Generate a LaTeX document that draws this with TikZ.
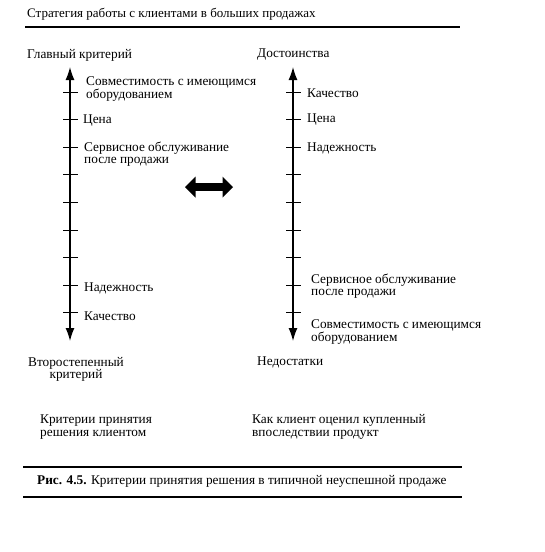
\documentclass[tikz,border=0pt]{standalone}
\usepackage{fontspec}
\setmainfont{Liberation Serif}
\usetikzlibrary{arrows.meta, shapes.arrows, positioning, calc}

\tikzset{
  lbl/.style={anchor=west, inner sep=0pt, align=left, font=\fontsize{13.3}{12.5}\selectfont},
  axis/.style={line width=1.3pt, {Latex[length=13pt,width=9pt]}-{Latex[length=13pt,width=9pt]}},
  tick/.style={line width=1pt},
  rule/.style={line width=1.5pt}
}

\begin{document}
\begin{tikzpicture}[x=1pt, y=-1pt]
  \useasboundingbox (0,0) rectangle (545,552);

  % Header
  \node[lbl, font=\fontsize{13}{12}\selectfont] (title) at (27,14) {Стратегия работы с клиентами в больших продажах};
  \draw[rule] (25,27) coordinate (hl) -- (460,27) coordinate (hr);

  % Column headings
  \node[lbl] (main) at (27,55) {Главный критерий};
  \node[lbl] (pros) at (257,55) {Достоинства};

  % Axes
  \coordinate (Ltop) at (70,67);
  \coordinate (Lbot) at (70,341);
  \coordinate (Rtop) at (293,67);
  \coordinate (Rbot) at (293,341);
  \draw[axis] (Ltop) -- (Lbot);
  \draw[axis] (Rtop) -- (Rbot);

  % Ticks
  \foreach \i in {0,...,8} {
    \draw[tick] ($(Ltop)+(-7,25+27.6*\i)$) -- ++(15,0);
    \draw[tick] ($(Rtop)+(-7,25+27.6*\i)$) -- ++(15,0);
  }

  % Left labels
  \node[lbl] (lcomp) at (86,89) {Совместимость с имеющимся\\оборудованием};
  \node[lbl] (lprice) at (83,121) {Цена};
  \node[lbl] (lserv) at (84,154) {Сервисное обслуживание\\после продажи};
  \node[lbl] (lrel) at (84,288) {Надежность};
  \node[lbl] (lqual) at (84,316) {Качество};

  % Right labels
  \node[lbl] (rqual) at (307,93) {Качество};
  \node[lbl] (rprice) at (307,120) {Цена};
  \node[lbl] (rrel) at (307,148) {Надежность};
  \node[lbl] (rserv) at (311,286) {Сервисное обслуживание\\после продажи};
  \node[lbl] (rcomp) at (311,332) {Совместимость с имеющимся\\оборудованием};

  % Double arrow between the columns
  \node[double arrow, fill=black, minimum height=48pt, minimum width=21pt,
        double arrow head extend=3pt, inner sep=1.5pt] (cmp) at (209,187) {};

  % Bottom headings
  \node[lbl, align=center, anchor=north] (minor) at (76,357) {Второстепенный\\критерий};
  \node[lbl] (cons) at (257,362) {Недостатки};
  \node[lbl] (crit) at (40,427) {Критерии принятия\\решения клиентом};
  \node[lbl] (eval) at (252,427) {Как клиент оценил купленный\\впоследствии продукт};

  % Caption
  \draw[rule] (23,467) coordinate (cl) -- (462,467) coordinate (cr);
  \node[lbl] (cap) at (37,481) {\textbf{Рис. 4.5.} Критерии принятия решения в типичной неуспешной продаже};
  \draw[rule] (23,497) -- (462,497);
\end{tikzpicture}
\end{document}
